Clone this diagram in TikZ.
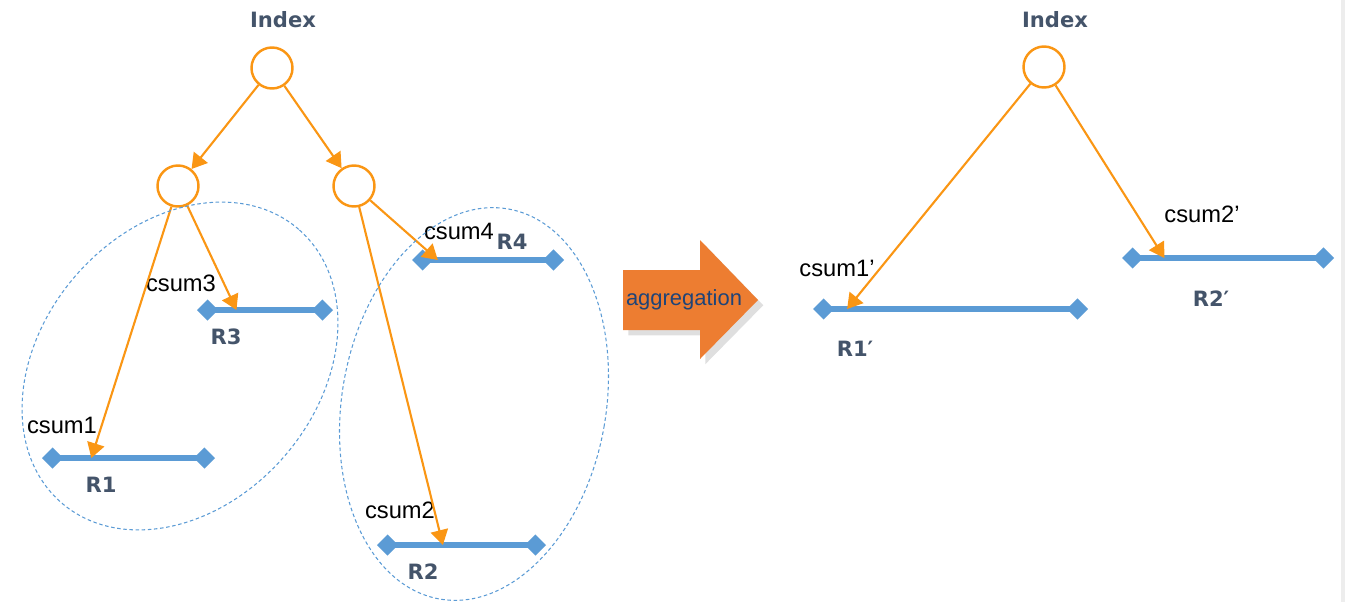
\documentclass[tikz,border=0pt]{standalone}
\usepackage{fontspec}
\setmainfont{Liberation Sans}
\newfontfamily\tagfont{DejaVu Sans}
\usetikzlibrary{arrows.meta,shadows}
\definecolor{treeorange}{RGB}{250,150,20}
\definecolor{aggorange}{RGB}{237,125,49}
\definecolor{rangeblue}{RGB}{91,155,213}
\definecolor{slate}{RGB}{68,84,106}
\definecolor{navy}{RGB}{31,68,120}

\begin{document}
\begin{tikzpicture}[x=0.02cm,y=0.02cm,
  inode/.style={circle,draw=treeorange,line width=1.4pt,minimum size=0.82cm,inner sep=0pt},
  ptr/.style={draw=treeorange,line width=1.2pt,-{Triangle[length=8.5pt,width=10pt]},treeorange},
  rangebar/.style={rangeblue,line width=3.4pt,{Diamond[length=12pt,width=12pt]}-{Diamond[length=12pt,width=12pt]}},
  grouping/.style={rangeblue,line width=0.6pt,dash pattern=on 2pt off 1.5pt},
  rtag/.style={font=\tagfont\bfseries\fontsize{12}{14}\selectfont,text=slate,inner sep=0pt},
  csumtag/.style={font=\fontsize{13.5}{15}\selectfont,inner sep=0pt}]
\useasboundingbox (0,0) rectangle (1345,-602);
\fill[black!7] (1341,0) rectangle (1345,-602);

\node[inode] (root) at (272,-68) {};
\node[inode] (lc) at (178,-186) {};
\node[inode] (rc) at (354,-186) {};
\node[rtag] (idx) at (283,-20) {Index};

\draw[rangebar] (197,-310) -- (333,-310) coordinate[pos=0.29] (c3);
\draw[rangebar] (42,-458) -- (215,-458) coordinate[pos=0.285] (c1);
\draw[rangebar] (412,-260) -- (564,-260) coordinate[pos=0.17] (c4);
\draw[rangebar] (377,-545) -- (546,-545) coordinate[pos=0.39] (c2);

\node[rtag] (r3) at (226,-337) {R3};
\node[rtag] (r1) at (101,-485) {R1};
\node[rtag] (r4) at (512,-242) {R4};
\node[rtag] (r2) at (423,-572) {R2};
\node[csumtag] (s3) at (181,-283) {csum3};
\node[csumtag] (s1) at (62,-425) {csum1};
\node[csumtag] (s4) at (459,-231) {csum4};
\node[csumtag] (s2) at (400,-510) {csum2};

\draw[ptr] (root) -- (lc);
\draw[ptr] (root) -- (rc);
\draw[ptr] (lc) -- (c3);
\draw[ptr] (lc) -- (c1);
\draw[ptr] (rc) -- (c4);
\draw[ptr] (rc) -- (c2);

\draw[grouping,rotate around={49:(180,-366)}] (180,-366) ellipse [x radius=181,y radius=138];
\draw[grouping,rotate around={-10:(474,-404)}] (474,-404) ellipse [x radius=132,y radius=198];

\fill[aggorange,drop shadow={shadow xshift=3pt,shadow yshift=-3pt,opacity=0.25}]
  (623,-270) -- (700,-270) -- (700,-240) -- (758,-300) -- (700,-359) -- (700,-330) -- (623,-330) -- cycle;
\node[font=\fontsize{12.5}{14}\selectfont,text=navy,inner sep=0pt] (agg) at (684,-300) {aggregation};

\node[inode] (root2) at (1044,-67) {};
\node[rtag] (idx2) at (1055,-20) {Index};
\draw[rangebar] (813,-309) -- (1088,-309) coordinate[pos=0.124] (c1p);
\draw[rangebar] (1122,-258) -- (1334,-258) coordinate[pos=0.2] (c2p);
\node[csumtag] (s1p) at (837,-268) {csum1’};
\node[csumtag] (s2p) at (1202,-214) {csum2’};
\node[rtag] (r1p) at (855,-349) {R1′};
\node[rtag] (r2p) at (1211,-299) {R2′};
\draw[ptr] (root2) -- (c1p);
\draw[ptr] (root2) -- (c2p);
\end{tikzpicture}
\end{document}
